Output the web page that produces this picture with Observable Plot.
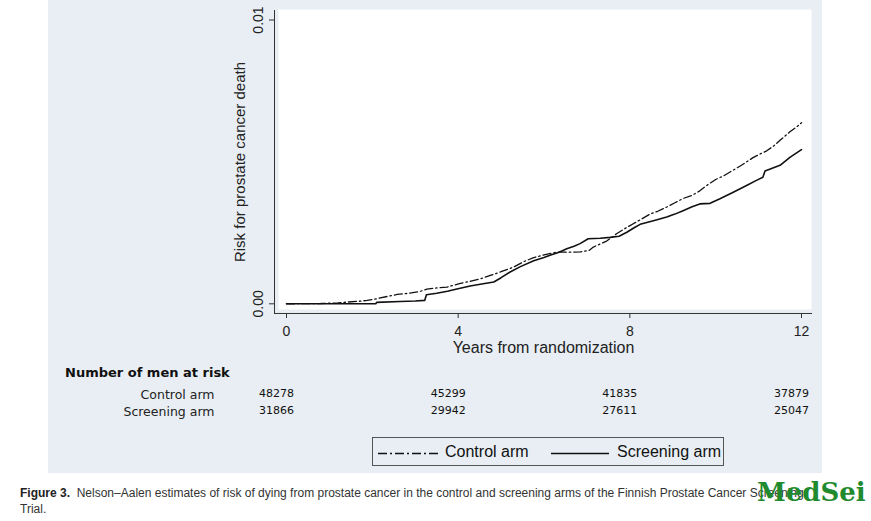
<!DOCTYPE html>
<html>
<head>
<meta charset="utf-8">
<script src="https://cdn.jsdelivr.net/npm/d3@7"></script>
<script src="https://cdn.jsdelivr.net/npm/@observablehq/plot@0.6"></script>
<style>
html, body { margin: 0; padding: 0; background: #fff; }
#page { position: relative; width: 871px; height: 521px; overflow: hidden; font-family: "Liberation Sans", Arial, sans-serif; }
#panel { position: absolute; left: 48px; top: 0; width: 774px; height: 473px; background: #e8eef3; }
#chart { position: absolute; left: 200px; top: 0; }
#table { position: absolute; left: 48px; top: 380px; }
#header { position: absolute; left: 65px; top: 365px; font: bold 13px "DejaVu Sans", Verdana, sans-serif; color: #111; white-space: nowrap; }
#legend { position: absolute; left: 372px; top: 437px; width: 350px; height: 27px; border: 1px solid #555; }
#legend svg { position: absolute; left: 0; top: 0; }
#legend span { position: absolute; top: 5px; font-size: 16px; line-height: 18px; color: #111; white-space: nowrap; }
#caption { position: absolute; left: 20px; top: 485px; width: 850px; font-size: 12px; line-height: 16px; color: #333; }
#caption b { font-weight: bold; color: #222; }
#watermark { position: absolute; left: 757px; top: 477px; font: bold 26px "DejaVu Serif", serif; color: #1f8a2e; white-space: nowrap; }
</style>
</head>
<body>
<div id="page">
  <div id="panel"></div>
  <div id="chart"></div>
  <div id="header">Number of men at risk</div>
  <div id="table"></div>
  <div id="legend">
    <svg width="350" height="27">
      <line x1="5" y1="15.5" x2="65" y2="15.5" stroke="#111" stroke-width="1.3" stroke-dasharray="9,3,2,3"></line>
      <line x1="178" y1="15.5" x2="236" y2="15.5" stroke="#111" stroke-width="1.6"></line>
    </svg>
    <span id="lg1" style="left:72px"></span>
    <span id="lg2" style="left:244px"></span>
  </div>
  <div id="caption"><b>Figure 3.</b>&nbsp; Nelson–Aalen estimates of risk of dying from prostate cancer in the control and screening arms of the Finnish Prostate Cancer Screening<br>Trial.</div>
  <div id="watermark">MedSei</div>
</div>
<script>
// ---- data ----
const seriesNames = ["Control arm", "Screening arm"];
const xTicks = [0, 4, 8, 12];
const yTicks = [0, 0.01];
const xLabel = "Years from randomization";
const yLabel = "Risk for prostate cancer death";

const controlYears = [0, 0.8, 1.2, 1.41, 1.7, 1.88, 2.11, 2.35, 2.58, 2.85, 3.12, 3.27, 3.5, 3.74, 4.05, 4.3, 4.52, 4.75, 5.0, 5.3, 5.55, 5.76, 6.0, 6.3, 6.6, 6.85, 7.05, 7.15, 7.3, 7.46, 7.6, 7.69, 7.85, 8.08, 8.3, 8.47, 8.65, 8.86, 9.05, 9.24, 9.45, 9.63, 9.8, 10.0, 10.2, 10.41, 10.6, 10.87, 11.05, 11.19, 11.35, 11.5, 11.73, 11.9, 12.0];
const controlRisk = [0, 0.00001, 0.00003, 0.00006, 0.00009, 0.00012, 0.00018, 0.00026, 0.00033, 0.00037, 0.00044, 0.00052, 0.00056, 0.00059, 0.00072, 0.0008, 0.00088, 0.001, 0.00113, 0.0013, 0.0015, 0.00163, 0.00172, 0.00182, 0.00182, 0.00183, 0.00188, 0.002, 0.0021, 0.00221, 0.00236, 0.00247, 0.00262, 0.00282, 0.00301, 0.00316, 0.00326, 0.00341, 0.00356, 0.00371, 0.00382, 0.00398, 0.00418, 0.00438, 0.00452, 0.00471, 0.00488, 0.00515, 0.00529, 0.00539, 0.00556, 0.00576, 0.00606, 0.00625, 0.00638];

const screeningYears = [0, 2.08, 2.1, 2.65, 3.0, 3.22, 3.26, 3.5, 3.75, 3.97, 4.28, 4.55, 4.83, 5.0, 5.21, 5.45, 5.76, 6.0, 6.14, 6.35, 6.53, 6.7, 6.84, 7.03, 7.31, 7.54, 7.75, 7.93, 8.1, 8.24, 8.55, 8.86, 9.05, 9.24, 9.45, 9.63, 9.87, 10.1, 10.41, 10.72, 10.95, 11.1, 11.15, 11.5, 11.73, 11.85, 12.0];
const screeningRisk = [0, 0, 0.00005, 0.00008, 0.0001, 0.00012, 0.00032, 0.00037, 0.00044, 0.00052, 0.00063, 0.0007, 0.00077, 0.00092, 0.00112, 0.00131, 0.00152, 0.00163, 0.00171, 0.00182, 0.00194, 0.00203, 0.00212, 0.00229, 0.00231, 0.00234, 0.00238, 0.00252, 0.00268, 0.0028, 0.00293, 0.00306, 0.00316, 0.00328, 0.00342, 0.00352, 0.00354, 0.0037, 0.00393, 0.00417, 0.00435, 0.00446, 0.00468, 0.00488, 0.00516, 0.00528, 0.00543];

const riskYears = [0, 4, 8, 12];
const controlAtRisk = [48278, 45299, 41835, 37879];
const screeningAtRisk = [31866, 29942, 27611, 25047];

// ---- derived tables ----
const controlData = controlYears.map((t, i) => ({year: t, risk: controlRisk[i]}));
const screeningData = screeningYears.map((t, i) => ({year: t, risk: screeningRisk[i]}));
const riskTable = [
  ...riskYears.map((t, i) => ({arm: seriesNames[0], year: t, n: controlAtRisk[i]})),
  ...riskYears.map((t, i) => ({arm: seriesNames[1], year: t, n: screeningAtRisk[i]}))
];

const ink = "#111";
const font = "Liberation Sans, Arial, sans-serif";

const chart = Plot.plot({
  width: 622, height: 360,
  marginLeft: 74, marginRight: 10, marginTop: 10, marginBottom: 47,
  style: {background: "transparent", fontFamily: font, fontSize: "14px", color: "#222", overflow: "visible"},
  x: {domain: [0, 12], insetLeft: 12, insetRight: 11, label: null},
  y: {domain: [0, 0.01], insetTop: 9.5, insetBottom: 9.7, label: null},
  marks: [
    Plot.frame({fill: "white", stroke: null, insetLeft: 4, insetBottom: 4, insetTop: -1, insetRight: 1}),
    Plot.ruleY([yTicks[0]], {dy: 9.7, stroke: "#333", strokeWidth: 1}),
    Plot.ruleX([xTicks[0]], {dx: -12, stroke: "#333", strokeWidth: 1}),
    Plot.axisX({ticks: xTicks, tickSize: 5, tickPadding: 8, fontSize: 14, label: null, stroke: "#333", fill: "#222"}),
    Plot.axisY({ticks: yTicks, tickSize: 5, tickFormat: () => "", label: null, stroke: "#333"}),
    Plot.text(yTicks, {y: d => d, text: d => d3.format(".2f")(d), frameAnchor: "left", textAnchor: "middle", lineAnchor: "middle", rotate: -90, dx: -16, fontSize: 14, fill: "#222"}),
    Plot.text([yLabel], {frameAnchor: "left", textAnchor: "middle", lineAnchor: "middle", rotate: -90, dx: -34, fontSize: 15, fill: "#222"}),
    Plot.text([xLabel], {frameAnchor: "bottom", textAnchor: "middle", lineAnchor: "middle", dy: 34, fontSize: 16, fill: "#222"}),
    Plot.line(controlData, {x: "year", y: "risk", stroke: ink, strokeWidth: 1.3, strokeDasharray: "8,3,1.5,3"}),
    Plot.line(screeningData, {x: "year", y: "risk", stroke: ink, strokeWidth: 1.6})
  ]
});
document.getElementById("chart").appendChild(chart);

const table = Plot.plot({
  width: 774, height: 42,
  marginLeft: 226, marginRight: 10, marginTop: 14, marginBottom: 11,
  style: {background: "transparent", fontFamily: "DejaVu Sans, Verdana, sans-serif"},
  x: {domain: [0, 12], insetLeft: 12, insetRight: 11, axis: null},
  y: {type: "point", domain: seriesNames, padding: 0, axis: null},
  marks: [
    Plot.text(seriesNames, {y: d => d, text: d => d, frameAnchor: "left", textAnchor: "end", dx: -60, fontSize: 12.5, fill: "#222"}),
    Plot.text(riskTable, {x: "year", y: "arm", text: d => String(d.n), dx: -10, dy: -1, fontSize: 11, fill: "#111"})
  ]
});
document.getElementById("table").appendChild(table);

document.getElementById("lg1").textContent = seriesNames[0];
document.getElementById("lg2").textContent = seriesNames[1];
</script>
</body>
</html>
